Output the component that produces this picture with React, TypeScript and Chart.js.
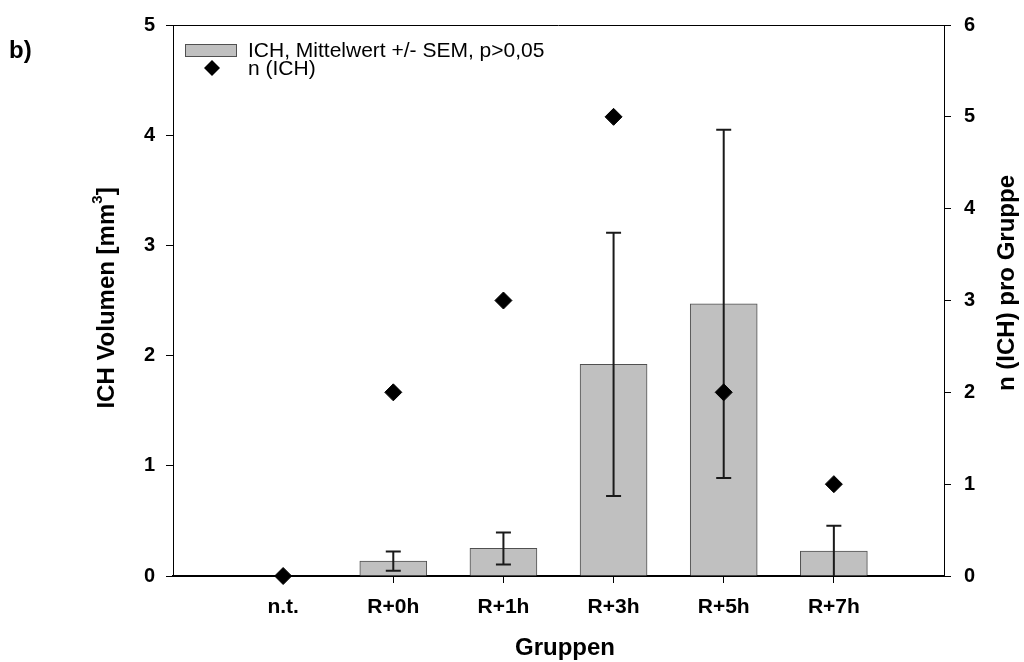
import React, { useEffect, useRef } from 'react';
import { Chart, registerables } from 'chart.js';

Chart.register(...registerables);

const categories = ['n.t.', 'R+0h', 'R+1h', 'R+3h', 'R+5h', 'R+7h'];
const meanVolume = [0, 0.135, 0.25, 1.92, 2.47, 0.226];
const semVolume = [0, 0.087, 0.145, 1.195, 1.58, 0.23];
const nICH = [0, 2, 3, 5, 2, 1];
const leftTickMax = 5;
const rightTickMax = 6;

const barLabel = 'ICH, Mittelwert +/- SEM, p>0,05';
const pointLabel = 'n (ICH)';
const panelLabel = 'b)';
const leftTitleMain = 'ICH Volumen [mm';
const leftTitleSup = '3';
const leftTitleEnd = ']';
const rightTitle = 'n (ICH) pro Gruppe';
const xTitle = 'Gruppen';

const FONT = '"Liberation Sans", Arial, sans-serif';
const BAR_FILL = '#c0c0c0';
const BAR_BORDER = '#505050';

const labels = ['', ...categories, ''];
const barData = [null, ...meanVolume, null];
const pointData = [null, ...nICH, null];

const errorBarPlugin = {
  id: 'errorBars',
  afterDatasetDraw(chart: any, args: any) {
    if (args.index !== 0) return;
    const meta = chart.getDatasetMeta(0);
    const y = chart.scales.y;
    const ctx = chart.ctx;
    const area = chart.chartArea;
    ctx.save();
    ctx.beginPath();
    ctx.rect(area.left, area.top, area.right - area.left, area.bottom - area.top + 2);
    ctx.clip();
    ctx.strokeStyle = '#1a1a1a';
    ctx.lineWidth = 2;
    const cap = 7.5;
    semVolume.forEach((s, i) => {
      if (!s) return;
      const el = meta.data[i + 1];
      if (!el) return;
      const x = el.x;
      const hiV = meanVolume[i] + s;
      const loV = meanVolume[i] - s;
      const yHi = y.getPixelForValue(hiV);
      const yLo = y.getPixelForValue(Math.max(0, loV));
      ctx.beginPath();
      ctx.moveTo(x, yHi);
      ctx.lineTo(x, yLo);
      ctx.moveTo(x - cap, yHi);
      ctx.lineTo(x + cap, yHi);
      if (loV > 0) {
        ctx.moveTo(x - cap, yLo);
        ctx.lineTo(x + cap, yLo);
      }
      ctx.stroke();
    });
    ctx.restore();
  },
};

function drawRotatedTitle(ctx: CanvasRenderingContext2D, cx: number, cy: number, parts: { t: string; size: number; dy: number }[]) {
  ctx.save();
  ctx.translate(cx, cy);
  ctx.rotate(-Math.PI / 2);
  let total = 0;
  parts.forEach((p) => {
    ctx.font = `bold ${p.size}px ${FONT}`;
    total += ctx.measureText(p.t).width;
  });
  let x = -total / 2;
  ctx.textBaseline = 'middle';
  ctx.textAlign = 'left';
  ctx.fillStyle = '#000';
  parts.forEach((p) => {
    ctx.font = `bold ${p.size}px ${FONT}`;
    ctx.fillText(p.t, x, p.dy);
    x += ctx.measureText(p.t).width;
  });
  ctx.restore();
}

const decorPlugin = {
  id: 'decor',
  afterDraw(chart: any) {
    const ctx = chart.ctx;
    const area = chart.chartArea;
    ctx.save();
    // top frame line
    ctx.strokeStyle = '#000';
    ctx.lineWidth = 1;
    ctx.beginPath();
    ctx.moveTo(area.left, area.top + 0.5);
    ctx.lineTo(area.right, area.top + 0.5);
    ctx.stroke();

    // panel label
    ctx.fillStyle = '#000';
    ctx.font = `bold 24px ${FONT}`;
    ctx.textBaseline = 'middle';
    ctx.textAlign = 'left';
    ctx.fillText(panelLabel, 9, 51);

    // axis titles
    drawRotatedTitle(ctx, 107, 298, [
      { t: leftTitleMain, size: 24, dy: 0 },
      { t: leftTitleSup, size: 15, dy: -9 },
      { t: leftTitleEnd, size: 24, dy: 0 },
    ]);
    drawRotatedTitle(ctx, 1007, 283, [{ t: rightTitle, size: 24, dy: 0 }]);

    ctx.font = `bold 24px ${FONT}`;
    ctx.textAlign = 'center';
    ctx.textBaseline = 'middle';
    ctx.fillText(xTitle, 565, 648);

    // legend
    ctx.fillStyle = BAR_FILL;
    ctx.strokeStyle = BAR_BORDER;
    ctx.lineWidth = 1;
    ctx.fillRect(185, 44, 52, 13);
    ctx.strokeRect(185.5, 44.5, 51, 12);
    ctx.fillStyle = '#000';
    ctx.beginPath();
    ctx.moveTo(212, 60);
    ctx.lineTo(220, 68);
    ctx.lineTo(212, 76);
    ctx.lineTo(204, 68);
    ctx.closePath();
    ctx.fill();
    ctx.font = `21px ${FONT}`;
    ctx.textAlign = 'left';
    ctx.textBaseline = 'middle';
    ctx.fillText(barLabel, 248, 51);
    ctx.fillText(pointLabel, 248, 69);
    ctx.restore();
  },
};

export default function App() {
  const ref = useRef<HTMLCanvasElement | null>(null);
  useEffect(() => {
    if (!ref.current) return;
    const xTickFont = { family: FONT, size: 21, weight: 'bold' as const };
    const yTickFont = { family: FONT, size: 20, weight: 'bold' as const };
    const chart = new Chart(ref.current, {
      type: 'bar',
      data: {
        labels,
        datasets: [
          {
            type: 'bar',
            label: barLabel,
            data: barData as any,
            backgroundColor: BAR_FILL,
            borderColor: BAR_BORDER,
            borderWidth: 1,
            barThickness: 67,
            yAxisID: 'y',
            order: 1,
          },
          {
            type: 'line',
            label: pointLabel,
            data: pointData as any,
            showLine: false,
            pointStyle: 'rectRot',
            pointRadius: 8.5,
            pointBackgroundColor: '#000',
            pointBorderColor: '#000',
            pointBorderWidth: 1,
            yAxisID: 'y1',
            order: 0,
            clip: false as any,
          },
        ],
      },
      options: {
        responsive: false,
        animation: false,
        layout: { padding: { top: 22, left: 0, right: 0, bottom: 0 } },
        plugins: {
          legend: { display: false },
          tooltip: { enabled: false },
          title: { display: false },
        },
        scales: {
          x: {
            type: 'category',
            offset: false,
            z: 1,
            grid: {
              offset: false,
              drawOnChartArea: false,
              drawTicks: true,
              tickLength: 7,
              tickWidth: 1,
              color: (c: any) => (c.index === 0 || c.index === labels.length - 1 ? 'rgba(0,0,0,0)' : '#000'),
            },
            border: { display: true, color: '#000', width: 2 },
            ticks: {
              color: '#000',
              font: xTickFont,
              padding: 12,
              autoSkip: false,
              maxRotation: 0,
              minRotation: 0,
            },
            afterFit: (s: any) => {
              s.height = 86;
            },
          },
          y: {
            type: 'linear',
            position: 'left',
            min: 0,
            max: leftTickMax,
            grid: { drawOnChartArea: false, drawTicks: true, tickLength: 7, color: '#000' },
            border: { display: true, color: '#000', width: 1 },
            ticks: { stepSize: 1, color: '#000', font: yTickFont, padding: 11 },
            afterFit: (s: any) => {
              s.width = 173;
            },
          },
          y1: {
            type: 'linear',
            position: 'right',
            min: 0,
            max: rightTickMax,
            grid: { drawOnChartArea: false, drawTicks: true, tickLength: 7, color: '#000' },
            border: { display: true, color: '#000', width: 1 },
            ticks: { stepSize: 1, color: '#000', font: yTickFont, padding: 13 },
            afterFit: (s: any) => {
              s.width = 80;
            },
          },
        },
      },
      plugins: [errorBarPlugin, decorPlugin],
    });
    return () => chart.destroy();
  }, []);
  return (
    <div style={{ position: 'fixed', left: 0, top: 0, width: 1024, height: 662, background: '#fff' }}>
      <canvas ref={ref} width={1024} height={662} style={{ display: 'block' }} />
    </div>
  );
}
